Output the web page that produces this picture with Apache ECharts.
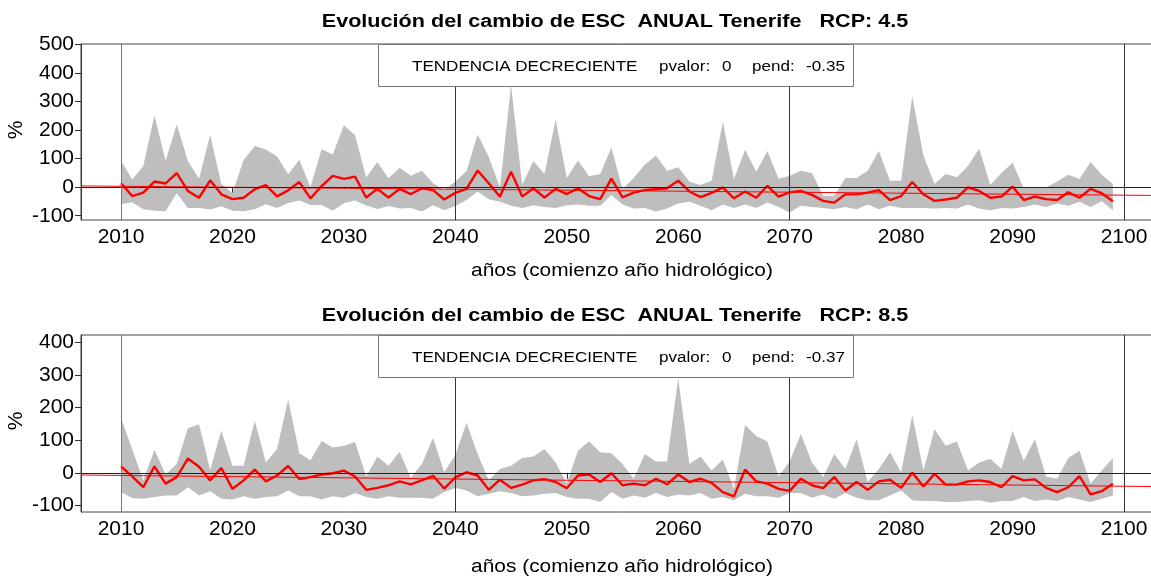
<!DOCTYPE html>
<html>
<head>
<meta charset="utf-8">
<script src="https://cdn.jsdelivr.net/npm/echarts@6/dist/echarts.min.js"></script>
<style>
  html, body { margin: 0; padding: 0; background: #fff; }
  #main { width: 1151px; height: 577px; }
</style>
</head>
<body>
<div id="main"></div>
<script>
// años hidrológicos 2010..2099
const startYear = 2010
// RCP 4.5: media del ensemble, máximo y mínimo (%)
const mean45 = [14, -31, -19, 20, 13, 49, -13, -37, 24, -25, -42, -37, -7, 7, -32, -11, 18, -39, 4, 40, 29, 37, -36, -6, -36, -6, -24, -4, -10, -43,
  -20, -6, 58, 14, -33, 54, -33, -4, -36, -6, -24, -4, -31, -42, 30, -36, -19, -10, -7, -4, 23, -15, -35, -20, -1, -39, -15, -37, 5, -33,
  -18, -13, -27, -48, -54, -25, -25, -19, -10, -45, -31, 18, -25, -48, -43, -37, -1, -13, -37, -33, 2, -45, -33, -42, -45, -18, -37, -6, -21, -49]
const max45 = [94, 27, 74, 252, 92, 221, 92, 30, 183, 12, -20, 95, 144, 132, 108, 45, 96, 0, 133, 115, 217, 182, 34, 88, 31, 68, 40, 58, 14, -10,
  20, 56, 185, 106, -1, 358, 8, 92, 46, 237, 32, 94, 38, 46, 139, -6, 32, 80, 110, 58, 70, 20, 8, 23, 229, 29, 131, 54, 127, 30,
  40, 58, 50, -30, -30, 32, 32, 58, 127, 23, 23, 320, 110, 11, 46, 35, 74, 136, 8, 50, 86, -4, 2, -1, 20, 44, 29, 88, 44, 11]
const min45 = [-60, -53, -77, -83, -84, -21, -73, -73, -78, -67, -83, -84, -77, -60, -73, -55, -47, -62, -62, -83, -56, -47, -64, -76, -66, -75, -73, -85, -63, -81,
  -66, -45, -15, -42, -51, -65, -73, -63, -69, -73, -63, -61, -65, -65, -27, -61, -75, -73, -85, -75, -57, -51, -65, -81, -61, -73, -61, -73, -54, -69,
  -89, -65, -69, -73, -77, -69, -77, -61, -77, -65, -73, -73, -73, -75, -73, -75, -61, -75, -81, -73, -75, -69, -61, -69, -57, -65, -51, -69, -49, -81]
// RCP 8.5
const mean85 = [20, -11, -44, 20, -33, -13, 44, 19, -23, 15, -49, -23, 10, -26, -8, 21, -19, -13, -5, -1, 7, -11, -52, -46, -38, -26, -35, -23, -9, -48,
  -14, 2, -8, -52, -21, -46, -36, -23, -19, -28, -47, -8, -5, -28, -1, -38, -33, -38, -18, -35, -5, -28, -18, -31, -59, -72, 10, -26, -33, -49,
  -55, -18, -38, -47, -13, -54, -28, -52, -26, -21, -46, 1, -42, -3, -36, -36, -26, -23, -28, -44, -10, -23, -20, -46, -59, -44, -10, -66, -56, -33]
const max85 = [169, 73, -23, 71, -5, 27, 137, 149, 9, 129, 22, 22, 161, 32, 73, 225, 60, 39, 98, 78, 83, 95, -11, 50, 22, 65, -15, 27, 108, 2,
  55, 154, 58, -23, 12, 22, 46, 50, 73, 32, -33, 68, 96, 63, 60, 27, -18, 58, 35, 35, 291, 27, 50, 7, 41, -49, 147, 113, 96, -11,
  35, 119, 32, -13, 58, 12, 103, -28, 12, 63, 2, 177, 7, 134, 83, 96, 7, 32, 43, 12, 129, 37, 103, -11, -18, 46, 68, -33, 7, 46]
const min85 = [-59, -77, -79, -74, -69, -69, -44, -69, -56, -79, -82, -72, -79, -74, -72, -54, -72, -72, -82, -72, -76, -62, -74, -79, -72, -76, -76, -76, -79, -59,
  -46, -54, -72, -64, -56, -62, -72, -69, -64, -62, -74, -79, -79, -89, -59, -79, -69, -76, -62, -74, -66, -69, -62, -79, -74, -84, -64, -72, -72, -76,
  -62, -62, -76, -66, -79, -62, -76, -84, -84, -69, -54, -84, -86, -86, -89, -89, -86, -84, -92, -86, -86, -74, -86, -82, -86, -74, -82, -89, -79, -69]
// recta de tendencia (extremos del panel)
const trendYears = [2006.41, 2102.87]
const trend45 = [4.5, -29]
const trend85 = [-6.5, -42]
const xTicks = [2010, 2020, 2030, 2040, 2050, 2060, 2070, 2080, 2090, 2100]
const yTicks45 = [-100, 0, 100, 200, 300, 400, 500]
const yTicks85 = [-100, 0, 100, 200, 300, 400]
const vLines = [2010, 2040, 2070, 2100]

const years = mean45.map((v, i) => startYear + i)
const pairs = (vals) => vals.map((v, i) => [years[i], v])

const FONT = 'Liberation Sans, Arial, sans-serif'

function xAx(idx) {
  return {
    type: 'value', gridIndex: idx, min: trendYears[0], max: trendYears[1],
    axisLine: { show: true, lineStyle: { color: '#333' } },
    axisTick: { show: true, length: 6, customValues: xTicks, lineStyle: { color: '#333' } },
    axisLabel: { customValues: xTicks, formatter: v => String(v), color: '#000', fontSize: 21, fontFamily: FONT, margin: 7 },
    splitLine: { show: false }
  }
}
function yAx(idx, min, max, ticks) {
  return {
    type: 'value', gridIndex: idx, min: min, max: max,
    axisLine: { show: true, lineStyle: { color: '#333' } },
    axisTick: { show: true, length: 6, customValues: ticks, lineStyle: { color: '#333' } },
    axisLabel: { customValues: ticks, formatter: v => String(v), color: '#000', fontSize: 21, fontFamily: FONT, margin: 7 },
    splitLine: { show: false }
  }
}
// banda gris entre el mínimo y el máximo del ensemble
function band(idx, hi, lo) {
  return {
    type: 'custom', xAxisIndex: idx, yAxisIndex: idx, silent: true, z: 1,
    data: years.map((y, i) => [y, hi[i], lo[i]]),
    encode: { x: 0, y: [1, 2] },
    renderItem: function (params, api) {
      if (params.dataIndex !== 0) return null
      const pts = []
      for (let i = 0; i < years.length; i++) pts.push(api.coord([years[i], hi[i]]))
      for (let i = years.length - 1; i >= 0; i--) pts.push(api.coord([years[i], lo[i]]))
      return { type: 'polygon', shape: { points: pts }, style: { fill: '#bebebe', stroke: null } }
    }
  }
}
function panel(idx, mean, hi, lo, trend) {
  return [
    band(idx, hi, lo),
    { type: 'line', xAxisIndex: idx, yAxisIndex: idx, data: [], z: 2,
      markLine: {
        silent: true, symbol: 'none', label: { show: false },
        data: [
          { yAxis: 0, lineStyle: { color: '#222', width: 1, type: 'solid' } },
          ...vLines.map(v => ({ xAxis: v, lineStyle: { color: v === 2010 ? '#777' : '#333', width: 1, type: 'solid' } }))
        ]
      } },
    { type: 'line', xAxisIndex: idx, yAxisIndex: idx, data: pairs(mean), symbol: 'none',
      lineStyle: { color: '#ff0000', width: 2.4 }, z: 4 },
    { type: 'line', xAxisIndex: idx, yAxisIndex: idx, data: trendYears.map((y, i) => [y, trend[i]]),
      symbol: 'none', lineStyle: { color: '#ff0000', width: 1 }, z: 3 }
  ]
}
function legendBox(top, pend) {
  const y = top + 23
  const st = { fill: '#000', fontSize: 15.5, fontFamily: FONT, textVerticalAlign: 'middle' }
  const t = (x, text) => ({ type: 'text', x: x, y: y, scaleX: 1.1, style: { ...st, text: text }, z: 101 })
  return [
    { type: 'rect', shape: { x: 378.5, y: top + 0.5, width: 475, height: 42 },
      style: { fill: '#fff', stroke: '#777', lineWidth: 1 }, z: 100 },
    t(412, 'TENDENCIA DECRECIENTE'), t(659, 'pvalor:'), t(722, '0'), t(752, 'pend:'), t(806, pend)
  ]
}
function labels(titleY, nameY, pctY, rcp) {
  return [
    { type: 'text', x: 615, y: titleY, scaleX: 1.2, style: { text: 'Evolución del cambio de ESC  ANUAL Tenerife   RCP: ' + rcp,
      fill: '#000', fontSize: 18, fontWeight: 'bold', fontFamily: FONT, textAlign: 'center', textVerticalAlign: 'middle' } },
    { type: 'text', x: 622, y: nameY, scaleX: 1.16, style: { text: 'años (comienzo año hidrológico)',
      fill: '#000', fontSize: 18, fontFamily: FONT, textAlign: 'center', textVerticalAlign: 'middle' } },
    { type: 'text', x: 16, y: pctY, rotation: Math.PI / 2, style: { text: '%',
      fill: '#000', fontSize: 21, fontFamily: FONT, textAlign: 'center', textVerticalAlign: 'middle' } }
  ]
}

const chart = echarts.init(document.getElementById('main'), null, { renderer: 'canvas' })
const option = {
  animation: false,
  backgroundColor: '#fff',
  grid: [
    { left: 81, top: 44, width: 1075, height: 176, show: true, borderColor: '#444', borderWidth: 1, outerBoundsMode: 'none' },
    { left: 81, top: 335, width: 1075, height: 177, show: true, borderColor: '#444', borderWidth: 1, outerBoundsMode: 'none' }
  ],
  xAxis: [xAx(0), xAx(1)],
  yAxis: [yAx(0, -115, 502, yTicks45), yAx(1, -120, 423, yTicks85)],
  series: [...panel(0, mean45, max45, min45, trend45), ...panel(1, mean85, max85, min85, trend85)],
  graphic: [
    ...legendBox(44, '-0.35'), ...legendBox(335, '-0.37'),
    ...labels(22, 271, 130, '4.5'), ...labels(316, 567, 421, '8.5')
  ]
}
chart.setOption(option)
</script>
</body>
</html>
